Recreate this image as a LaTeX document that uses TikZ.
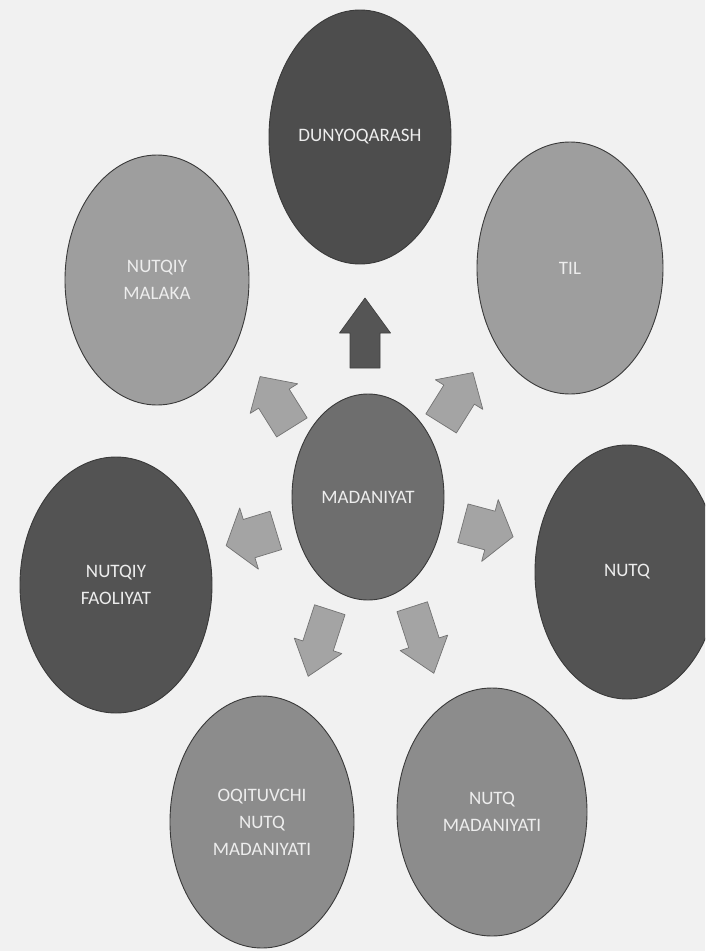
\documentclass[tikz,border=0pt]{standalone}
\usepackage{fontspec}
\setmainfont{Carlito}
\usetikzlibrary{shapes.geometric}
\definecolor{bgc}{HTML}{F1F1F1}
\definecolor{cdark}{HTML}{4D4D4D}
\definecolor{cdarkb}{HTML}{535353}
\definecolor{clight}{HTML}{9E9E9E}
\definecolor{cmid}{HTML}{6E6E6E}
\definecolor{clow}{HTML}{8C8C8C}
\definecolor{crim}{HTML}{3A3A3A}
\definecolor{ctext}{HTML}{EDEDED}
\definecolor{carrow}{HTML}{A4A4A4}
\definecolor{carrowd}{HTML}{555555}
\begin{document}
\begin{tikzpicture}[x=1pt,y=-1pt,
  bubble/.style={ellipse, draw=crim, line width=0.9pt, inner sep=0pt,
    text=ctext, align=center, font=\fontsize{19}{27}\selectfont},
  darkb/.style={bubble, fill=cdark},
  darkside/.style={bubble, fill=cdarkb},
  lightb/.style={bubble, fill=clight},
  midb/.style={bubble, fill=cmid},
  lowb/.style={bubble, fill=clow},
  sidearrow/.style={fill=carrow, draw=black!55, line width=0.7pt, line join=round},
  uparrow/.style={fill=carrowd, draw=black!75, line width=0.7pt, line join=round},
  pics/barrow/.style n args={4}{code={
    \path[pic actions] (-#1/2,-#3/2) -- (#1/2-#4,-#3/2) -- (#1/2-#4,-#2/2)
      -- (#1/2,0) -- (#1/2-#4,#2/2) -- (#1/2-#4,#3/2) -- (-#1/2,#3/2) -- cycle;
  }}
]
\useasboundingbox (0,0) rectangle (705,951);
\clip (0,0) rectangle (705,951);
\fill[bgc] (0,0) rectangle (705,951);

% ellipses
\node[darkb, minimum width=182pt, minimum height=254pt] (dunyo) at (360,137) {DUNYOQARASH};
\node[lightb, minimum width=186pt, minimum height=252pt] (til) at (570,268) {TIL};
\node[lightb, minimum width=184pt, minimum height=250pt] (malaka) at (157,280) {NUTQIY\\MALAKA};
\node[midb, minimum width=152pt, minimum height=206pt] (madaniyat) at (368,497) {MADANIYAT};
\node[darkside, minimum width=192pt, minimum height=256pt] (faoliyat) at (116,585) {NUTQIY\\FAOLIYAT};
\node[darkside, minimum width=184pt, minimum height=254pt] (nutq) at (627,572) {NUTQ};
\node[lowb, minimum width=184pt, minimum height=252pt] (oqituvchi) at (262,822) {OQITUVCHI\\NUTQ\\MADANIYATI};
\node[lowb, minimum width=190pt, minimum height=248pt] (nutqmad) at (492,812) {NUTQ\\MADANIYATI};

% block arrows
\pic (aup) [uparrow, rotate=90] at (365,333) {barrow={70}{51}{30}{35}};
\pic (aul) [sidearrow, rotate=122] at (276,402) {barrow={60}{56}{36}{26}};
\pic (aur) [sidearrow, rotate=58] at (457,398) {barrow={60}{56}{36}{26}};
\pic (al) [sidearrow, rotate=197] at (251,538) {barrow={52}{64}{40}{24}};
\pic (ar) [sidearrow, rotate=-15] at (488,530) {barrow={52}{64}{40}{24}};
\pic (adl) [sidearrow, rotate=-108] at (319,643) {barrow={70}{50}{32}{32}};
\pic (adr) [sidearrow, rotate=-72] at (423,640) {barrow={70}{50}{32}{32}};
\end{tikzpicture}
\end{document}
